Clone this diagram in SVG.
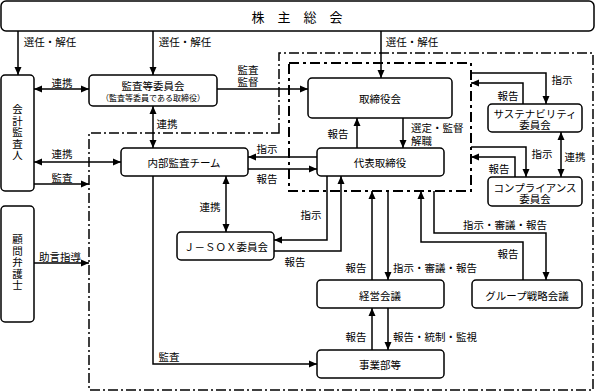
<svg xmlns="http://www.w3.org/2000/svg" width="596" height="392" viewBox="0 0 596 392">
<style>
text{font-family:"Noto Sans CJK JP","Noto Sans CJK SC",sans-serif;font-size:10.5px;fill:#000;dominant-baseline:central}
.c{text-anchor:middle}
.s{text-anchor:start}
.v{writing-mode:vertical-rl;text-anchor:middle;letter-spacing:1px;font-size:10.5px}
.box{fill:#fff;stroke:#000;stroke-width:1.5}
.ln{fill:none;stroke:#000;stroke-width:1.5}
.a{marker-end:url(#ah)}
.b{marker-start:url(#ah);marker-end:url(#ah)}
.outer{fill:none;stroke:#000;stroke-width:1.5;stroke-dasharray:10 3 2 3}
.inner{fill:none;stroke:#000;stroke-width:2;stroke-dasharray:10 4 3 4}
</style>
<defs>
<marker id="ah" markerUnits="userSpaceOnUse" markerWidth="9" markerHeight="8" refX="8" refY="4" orient="auto-start-reverse">
<path d="M0,0.5 L8,4 L0,7.5 z" fill="#000"/>
</marker>
</defs>
<rect width="596" height="392" fill="#fff"/>
<g id="regions">
<path class="outer" d="M279,133 V53 H593 V390 H89 V133 Z"/>
<rect class="inner" x="289" y="63" width="182" height="128"/>
</g>
<g id="connectors">
<path class="ln a" d="M18,31 V75"/>
<path class="ln a" d="M153,31 V75"/>
<path class="ln a" d="M381,31 V78"/>
<path class="ln b" d="M34,89 H89"/>
<path class="ln a" d="M217,89 H308"/>
<path class="ln b" d="M153,106 V148"/>
<path class="ln b" d="M34,162 H121"/>
<path class="ln a" d="M34,184 H89"/>
<path class="ln a" d="M34,263 H89"/>
<path class="ln a" d="M317,157 H248"/>
<path class="ln a" d="M248,169 H317"/>
<path class="ln a" d="M357,148 V118"/>
<path class="ln a" d="M403,118 V148"/>
<path class="ln b" d="M226,176 V232"/>
<path class="ln a" d="M327,176 V240 H274"/>
<path class="ln a" d="M274,251 H341 V176"/>
<path class="ln a" d="M153,176 V364 H317"/>
<path class="ln a" d="M372,280 V191"/>
<path class="ln a" d="M388,191 V280"/>
<path class="ln a" d="M523,280 V242 H421 V191"/>
<path class="ln a" d="M434,191 V233 H546 V280"/>
<path class="ln a" d="M372,350 V308"/>
<path class="ln a" d="M388,308 V350"/>
<path class="ln a" d="M471,73 H546 V104"/>
<path class="ln a" d="M523,104 V83 H471"/>
<path class="ln a" d="M471,147 H526 V177"/>
<path class="ln a" d="M515,177 V157 H471"/>
<path class="ln b" d="M561,132 V177"/>
</g>
<g id="labels">
<text class="c" x="50" y="41">選任・解任</text>
<text class="c" x="185" y="41">選任・解任</text>
<text class="c" x="412" y="41">選任・解任</text>
<text class="c" x="62" y="82">連携</text>
<text class="c" x="248" y="69">監査<tspan x="248" dy="12">監督</tspan></text>
<text class="c" x="167" y="123">連携</text>
<text class="c" x="62" y="153">連携</text>
<text class="c" x="62" y="177">監査</text>
<text class="c" x="60" y="256">助言指導</text>
<text class="c" x="267" y="148">指示</text>
<text class="c" x="267" y="178">報告</text>
<text class="c" x="338" y="133">報告</text>
<text class="s" x="411" y="127">選定・監督<tspan x="411" dy="13">解職</tspan></text>
<text class="c" x="210" y="206">連携</text>
<text class="c" x="311" y="214">指示</text>
<text class="c" x="295" y="261">報告</text>
<text class="c" x="169" y="356">監査</text>
<text class="c" x="356" y="267">報告</text>
<text class="s" x="393" y="267">指示・審議・報告</text>
<text class="c" x="356" y="336">報告</text>
<text class="s" x="393" y="336">報告・統制・監視</text>
<text class="s" x="463" y="224">指示・審議・報告</text>
<text class="c" x="508" y="253">報告</text>
<text class="c" x="562" y="79">指示</text>
<text class="c" x="508" y="95">報告</text>
<text class="c" x="542" y="153">指示</text>
<text class="c" x="575" y="156">連携</text>
<text class="c" x="499" y="168">報告</text>
</g>
<g id="shareholders">
<rect class="box" x="1" y="1" width="593" height="30" rx="5"/>
<text class="c" x="297" y="16" style="font-size:13px">株　主　総　会</text>
</g>
<g id="auditor">
<rect class="box" x="1" y="75" width="33" height="116" rx="4"/>
<text class="v" x="17.5" y="133">会計監査人</text>
</g>
<g id="lawyer">
<rect class="box" x="1" y="206" width="33" height="116" rx="4"/>
<text class="v" x="17.5" y="263">顧問弁護士</text>
</g>
<g id="audit-committee">
<rect class="box" x="89" y="75" width="128" height="31" rx="4"/>
<text class="c" x="153" y="85">監査等委員会<tspan x="153" dy="12" style="font-size:8px">（監査等委員である取締役）</tspan></text>
</g>
<g id="board">
<rect class="box" x="308" y="78" width="144" height="40" rx="4"/>
<text class="c" x="380" y="98">取締役会</text>
</g>
<g id="ceo">
<rect class="box" x="317" y="148" width="127" height="28" rx="4"/>
<text class="c" x="380" y="162">代表取締役</text>
</g>
<g id="internal-audit">
<rect class="box" x="121" y="148" width="127" height="28" rx="4"/>
<text class="c" x="184" y="162">内部監査チーム</text>
</g>
<g id="jsox">
<rect class="box" x="177" y="232" width="97" height="28" rx="4"/>
<text class="c" x="226" y="246">Ｊ－ＳＯＸ委員会</text>
</g>
<g id="sustainability">
<rect class="box" x="488" y="104" width="94" height="28" rx="4"/>
<text class="c" x="535" y="113">サステナビリティ<tspan x="535" dy="11">委員会</tspan></text>
</g>
<g id="compliance">
<rect class="box" x="488" y="177" width="94" height="29" rx="4"/>
<text class="c" x="535" y="187">コンプライアンス<tspan x="535" dy="11">委員会</tspan></text>
</g>
<g id="management">
<rect class="box" x="317" y="280" width="127" height="28" rx="4"/>
<text class="c" x="380" y="295">経営会議</text>
</g>
<g id="group-strategy">
<rect class="box" x="472" y="280" width="110" height="28" rx="4"/>
<text class="c" x="527" y="295">グループ戦略会議</text>
</g>
<g id="business">
<rect class="box" x="317" y="350" width="127" height="28" rx="4"/>
<text class="c" x="380" y="364">事業部等</text>
</g>
</svg>
